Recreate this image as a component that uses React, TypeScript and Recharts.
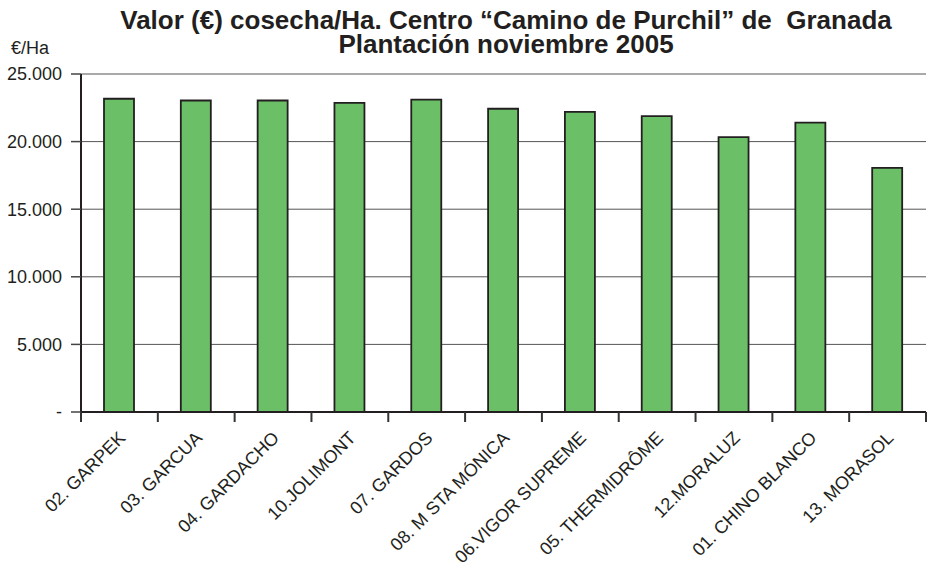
import { BarChart, Bar, XAxis, YAxis, CartesianGrid } from 'recharts'

const variedades = [
  '02. GARPEK',
  '03. GARCUA',
  '04. GARDACHO',
  '10.JOLIMONT',
  '07. GARDOS',
  '08. M STA MÓNICA',
  '06.VIGOR SUPREME',
  '05. THERMIDRÔME',
  '12.MORALUZ',
  '01. CHINO BLANCO',
  '13. MORASOL',
]
const valores = [23170, 23040, 23040, 22870, 23110, 22430, 22200, 21880, 20330, 21410, 18060]
const yTicks = [0, 5000, 10000, 15000, 20000, 25000]

const data = variedades.map((nombre, i) => ({ nombre, valor: valores[i] }))

const FONT = '"Liberation Sans", Arial, Helvetica, sans-serif'
const TINTA = '#231F20'

const formatoMiles = (v: number) =>
  v === 0 ? '-' : String(v).replace(/\B(?=(\d{3})+(?!\d))/g, '.')

// etiqueta girada + marca en el borde de cada categoría (payload.offset = media banda)
function EtiquetaX(props: any) {
  const { x, y, payload, index, visibleTicksCount } = props
  const media = payload.offset
  const ultimo = index === visibleTicksCount - 1
  return (
    <g>
      <g transform={`translate(${x + 7},${y + 27})`}>
        <text
          x={0}
          y={0}
          textAnchor="end"
          transform="rotate(-45)"
          fontSize={18}
          fontFamily={FONT}
          fill={TINTA}
        >
          {payload.value}
        </text>
      </g>
      <line x1={x - media} x2={x - media} y1={y} y2={y + 10} stroke="#333" strokeWidth={2} />
      {ultimo ? (
        <line x1={x + media} x2={x + media} y1={y} y2={y + 10} stroke="#333" strokeWidth={2} />
      ) : null}
    </g>
  )
}

export default function App() {
  return (
    <div
      style={{
        position: 'absolute',
        left: 0,
        top: 0,
        width: 928,
        height: 568,
        background: '#fff',
        fontFamily: FONT,
        color: TINTA,
      }}
    >
      <div
        style={{
          position: 'absolute',
          left: 0,
          width: 1012,
          top: 8,
          textAlign: 'center',
          fontFamily: '"Liberation Sans Narrow", "Arial Narrow", ' + FONT,
          fontWeight: 'bold',
          fontSize: 26,
          lineHeight: '24px',
          whiteSpace: 'pre',
        }}
      >
        {'Valor (€) cosecha/Ha. Centro “Camino de Purchil” de  Granada\nPlantación noviembre 2005'}
      </div>
      <div style={{ position: 'absolute', left: 11, top: 38, fontSize: 18 }}>€/Ha</div>

      <BarChart
        width={928}
        height={568}
        data={data}
        margin={{ top: 74, right: 2, left: 0, bottom: 0 }}
        barSize={30}
      >
        <CartesianGrid vertical={false} stroke="#555" strokeWidth={1} />
        <XAxis
          dataKey="nombre"
          interval={0}
          tickLine={false}
          tickSize={0}
          tickMargin={0}
          axisLine={{ stroke: TINTA, strokeWidth: 2 }}
          tick={<EtiquetaX />}
          height={156}
        />
        <YAxis
          domain={[0, 25000]}
          ticks={yTicks}
          tickFormatter={formatoMiles}
          width={81}
          tickSize={10}
          tickMargin={9}
          tickLine={{ stroke: '#444', strokeWidth: 1.5 }}
          axisLine={{ stroke: TINTA, strokeWidth: 2 }}
          tick={{ fontSize: 18, fontFamily: FONT, fill: TINTA }}
        />
        <YAxis
          yAxisId="derecha"
          orientation="right"
          width={0}
          tick={false}
          tickLine={false}
          axisLine={{ stroke: TINTA, strokeWidth: 2 }}
        />
        <Bar
          dataKey="valor"
          fill="#6BBF67"
          stroke={TINTA}
          strokeWidth={1.8}
          isAnimationActive={false}
        />
      </BarChart>
    </div>
  )
}
